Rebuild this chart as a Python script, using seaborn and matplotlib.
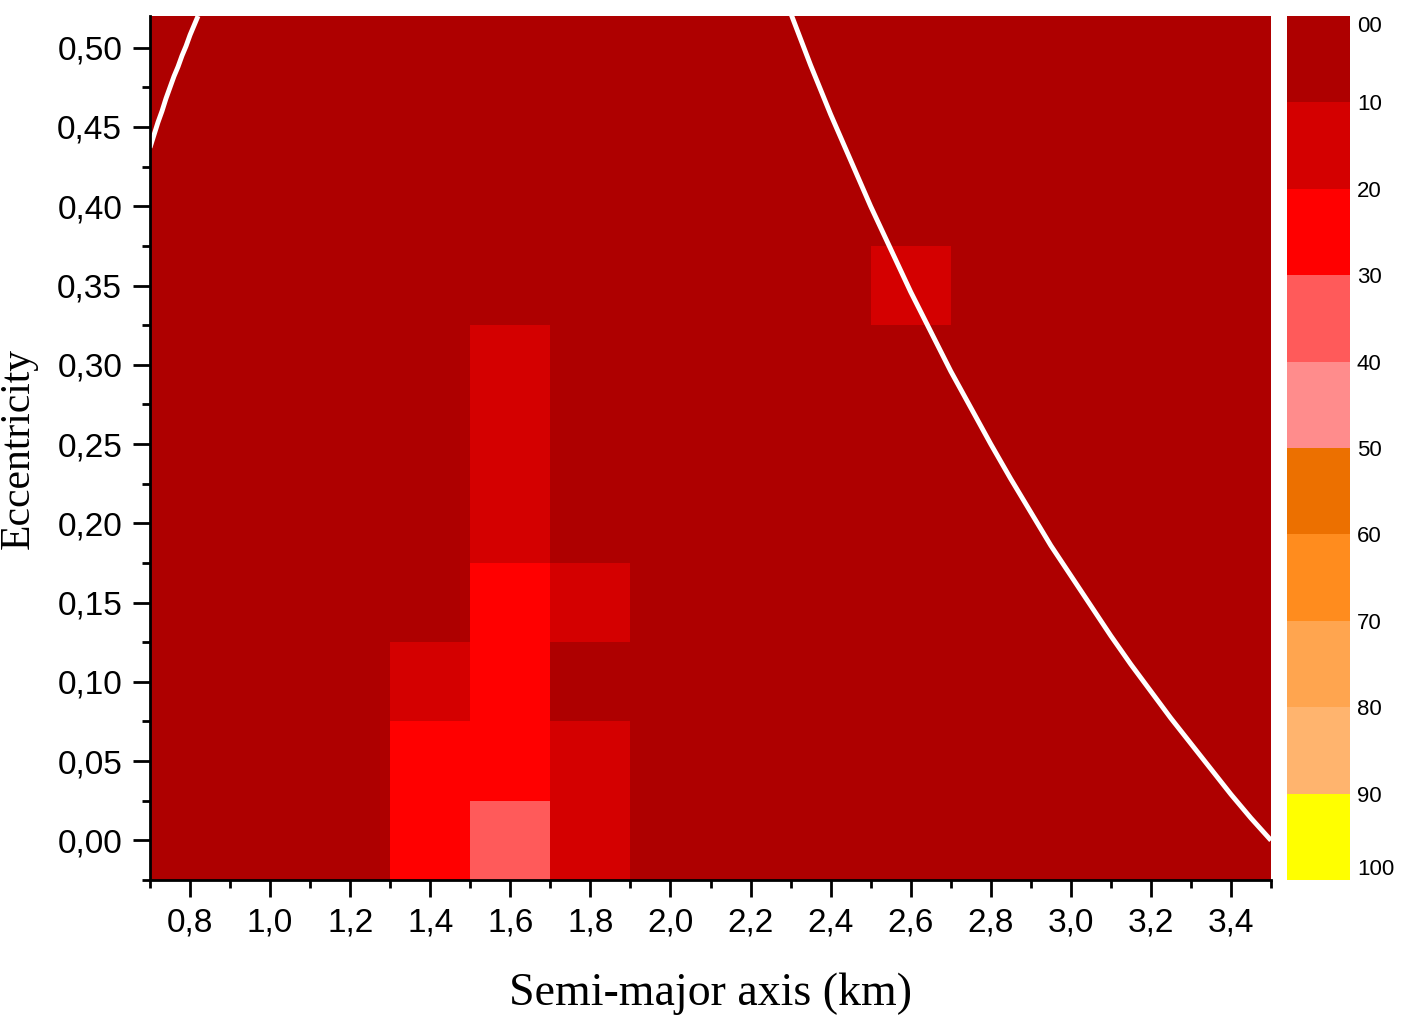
import numpy as np
import pandas as pd
import matplotlib
matplotlib.use("Agg")
import matplotlib.pyplot as plt
from matplotlib.colors import ListedColormap, BoundaryNorm
import seaborn as sns

#--------------------
# data
#--------------------
# cell centres
semi_major   = [0.8, 1.0, 1.2, 1.4, 1.6, 1.8, 2.0, 2.2, 2.4, 2.6, 2.8, 3.0, 3.2, 3.4]
eccentricity = [0.50, 0.45, 0.40, 0.35, 0.30, 0.25, 0.20, 0.15, 0.10, 0.05, 0.00]  # top row first

# percentage in every cell (rows follow eccentricity, columns semi_major)
percent = [
    [5, 5, 5, 5,  5,  5, 5, 5, 5,  5, 5, 5, 5, 5],
    [5, 5, 5, 5,  5,  5, 5, 5, 5,  5, 5, 5, 5, 5],
    [5, 5, 5, 5,  5,  5, 5, 5, 5,  5, 5, 5, 5, 5],
    [5, 5, 5, 5,  5,  5, 5, 5, 5, 15, 5, 5, 5, 5],
    [5, 5, 5, 5, 15,  5, 5, 5, 5,  5, 5, 5, 5, 5],
    [5, 5, 5, 5, 15,  5, 5, 5, 5,  5, 5, 5, 5, 5],
    [5, 5, 5, 5, 15,  5, 5, 5, 5,  5, 5, 5, 5, 5],
    [5, 5, 5, 5, 25, 15, 5, 5, 5,  5, 5, 5, 5, 5],
    [5, 5, 5, 15, 25, 5, 5, 5, 5,  5, 5, 5, 5, 5],
    [5, 5, 5, 25, 25, 15, 5, 5, 5, 5, 5, 5, 5, 5],
    [5, 5, 5, 25, 35, 15, 5, 5, 5, 5, 5, 5, 5, 5],
]

# colour classes
levels       = [0, 10, 20, 30, 40, 50, 60, 70, 80, 90, 100]
level_labels = ["00", "10", "20", "30", "40", "50", "60", "70", "80", "90", "100"]
level_colors = ["#ae0000", "#d40000", "#ff0000", "#ff5a5a", "#ff8c8c",
                "#ec7000", "#ff8c1e", "#ffa54f", "#ffb46e", "#ffff00"]

# white boundary curves (semi-major axis, eccentricity)
inner_a = [0.700, 0.710, 0.720, 0.730, 0.740, 0.750, 0.760, 0.770, 0.780, 0.790, 0.800, 0.810, 0.820]
inner_e = [0.437, 0.445, 0.453, 0.460, 0.468, 0.475, 0.482, 0.488, 0.495, 0.501, 0.508, 0.514, 0.520]
outer_a = [2.30, 2.35, 2.40, 2.45, 2.50, 2.55, 2.60, 2.65, 2.70, 2.75, 2.80, 2.85, 2.90,
           2.95, 3.00, 3.05, 3.10, 3.15, 3.20, 3.25, 3.30, 3.35, 3.40, 3.45, 3.50]
outer_e = [0.522, 0.489, 0.458, 0.429, 0.400, 0.373, 0.346, 0.321, 0.296, 0.273, 0.250, 0.228, 0.207,
           0.186, 0.167, 0.148, 0.129, 0.111, 0.094, 0.077, 0.061, 0.045, 0.029, 0.014, 0.000]

e_top = 0.52   # upper limit of the y axis

#--------------------
# helpers
#--------------------
da = semi_major[1] - semi_major[0]
de = eccentricity[0] - eccentricity[1]
a0 = semi_major[0] - da / 2
e0 = eccentricity[0] + de / 2

def to_grid(a, e):
    # data coordinates -> heatmap cell coordinates
    return (np.asarray(a) - a0) / da, (e0 - np.asarray(e)) / de

sans  = "Liberation Sans"
serif = "Liberation Serif"

#--------------------
# plot
#--------------------
sns.set_style("white")
fig = plt.figure(figsize=(14.11, 10.22), dpi=100)
ax  = fig.add_axes([150 / 1411, 1 - 880 / 1022, 1121 / 1411, 864 / 1022])
cax = fig.add_axes([1287 / 1411, 1 - 880 / 1022, 63 / 1411, 864 / 1022])

df = pd.DataFrame(percent, index=eccentricity, columns=semi_major)
cmap = ListedColormap(level_colors)
norm = BoundaryNorm(levels, cmap.N)

sns.heatmap(df, ax=ax, cbar_ax=cax, cmap=cmap, norm=norm,
            xticklabels=False, yticklabels=False)

# boundary curves
x, y = to_grid(inner_a, inner_e)
ax.plot(x, y, color="white", lw=3.5, solid_capstyle="butt")
x, y = to_grid(outer_a, outer_e)
ax.plot(x, y, color="white", lw=3.5, solid_capstyle="butt")

# axes limits / ticks
ax.set_xlim(0, len(semi_major))
ax.set_ylim(len(eccentricity), to_grid(0, e_top)[1])

ax.set_xticks(np.arange(len(semi_major)) + 0.5)
ax.set_xticklabels([f"{a:.1f}".replace(".", ",") for a in semi_major],
                   rotation=0, fontsize=24, family=sans)
ax.set_xticks(np.arange(len(semi_major) + 1), minor=True)
ax.set_yticks(np.arange(len(eccentricity)) + 0.5)
ax.set_yticklabels([f"{e:.2f}".replace(".", ",") for e in eccentricity],
                   rotation=0, fontsize=24, family=sans)
ax.set_yticks(np.arange(1, len(eccentricity) + 1), minor=True)

ax.tick_params(which="major", direction="out", length=12, width=2, color="black",
               labelcolor="black", left=True, bottom=True, pad=8)
ax.tick_params(which="minor", direction="out", length=6, width=2, color="black",
               left=True, bottom=True)

for side in ["left", "bottom"]:
    ax.spines[side].set_visible(True)
    ax.spines[side].set_color("black")
    ax.spines[side].set_linewidth(2)
    ax.spines[side].set_zorder(5)

ax.set_xlabel("Semi-major axis (km)", fontsize=33, family=serif, color="black", labelpad=24)
ax.set_ylabel("Eccentricity", fontsize=30, family=serif, color="black", labelpad=14)

# colour bar
cax.set_ylim(levels[-1], levels[0])
cax.set_yticks(levels)
cax.set_yticklabels(level_labels, fontsize=16, family=sans)
cax.tick_params(length=0, pad=5, labelcolor="black")
lab = cax.get_yticklabels()
lab[0].set_va("top")
lab[-1].set_va("bottom")

fig.savefig("out.png", dpi=100)
